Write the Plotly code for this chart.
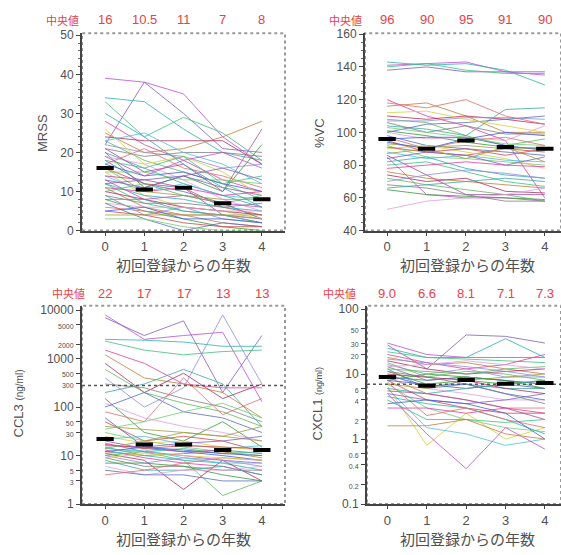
import plotly.graph_objects as go

W, H = 561, 555

years = [0, 1, 2, 3, 4]
year_labels = ["0", "1", "2", "3", "4"]
median_word = "中央値"
x_title = "初回登録からの年数"

# ---------------- MRSS (per-subject values, one array per year) ----------------
mrss_y0 = [39, 22, 34, 33, 28, 25, 24, 23, 22, 21, 20, 20, 19, 18, 17, 17, 16, 16, 15, 15, 14, 14, 13, 13,
           12, 12, 11, 11, 10, 10, 9, 9, 8, 8, 7, 7, 6, 5, 5, 4, 3, 26, 23, 21, 19, 12, 30, 18]
mrss_y1 = [38, 38, 33, 24, 22, 20, 23, 18, 20, 19, 16, 11, 17, 12, 21, 14, 12, 10, 15, 9, 10, 13, 8, 11,
           9, 7, 10, 6, 8, 12, 4, 7, 8, 5, 6, 3, 5, 6, 4, 4, 3, 17, 25, 15, 14, 13, 24, 16]
mrss_y2 = [35, 30, 26, 29, 18, 21, 23, 15, 19, 20, 12, 14, 13, 10, 16, 15, 11, 9, 13, 6, 12, 11, 9, 14,
           8, 5, 11, 4, 6, 9, 6, 7, 5, 3, 6, 0, 4, 3, 2, 4, 1, 19, 20, 17, 18, 14, 17, 19]
mrss_y3 = [24, 21, 20, 25, 13, 24, 23, 12, 16, 20, 9, 10, 8, 7, 14, 12, 6, 8, 13, 5, 9, 4, 7, 11,
           6, 4, 9, 2, 5, 7, 3, 6, 4, 1, 5, 2, 4, 3, 1, 4, 0, 15, 17, 10, 20, 16, 11, 12]
mrss_y4 = [17, 20, 18, 18, 10, 28, 17, 8, 17, 19, 6, 22, 5, 3, 11, 10, 4, 8, 12, 3, 8, 2, 6, 9,
           5, 2, 10, 1, 4, 9, 2, 7, 3, 0, 5, 1, 3, 2, 1, 4, 0, 9, 12, 26, 16, 13, 6, 14]
mrss_median = [16, 10.5, 11, 7, 8]
mrss_median_text = ["16", "10.5", "11", "7", "8"]

# ---------------- %VC ----------------
vc_y0 = [141, 138, 143, 140, 120, 116, 110, 108, 107, 106, 104, 101, 100, 98, 97, 96, 95, 93, 92, 90, 88,
         86, 85, 84, 82, 80, 78, 76, 74, 72, 70, 68, 66, 65, 53, 100, 118, 94, 91, 87, 103, 112]
vc_y1 = [142, 140, 141, 142, 110, 118, 108, 106, 107, 100, 102, 98, 96, 92, 90, 97, 88, 91, 85, 92, 84,
         74, 62, 88, 85, 82, 80, 72, 70, 68, 74, 66, 68, 62, 58, 105, 115, 90, 88, 90, 100, 113]
vc_y2 = [143, 137, 142, 138, 104, 110, 110, 98, 109, 104, 98, 94, 97, 90, 95, 97, 86, 92, 84, 88, 86,
         62, 60, 86, 78, 76, 82, 70, 72, 65, 77, 62, 70, 61, 60, 106, 120, 96, 90, 84, 97, 108]
vc_y3 = [137, 137, 138, 136, 95, 100, 108, 92, 109, 99, 114, 91, 95, 88, 97, 92, 90, 90, 82, 84, 83,
         62, 60, 80, 74, 70, 80, 68, 64, 62, 75, 58, 72, 60, 62, 108, 110, 100, 86, 91, 93, 104]
vc_y4 = [135, 137, 129, 136, 60, 100, 105, 96, 108, 99, 115, 90, 104, 86, 92, 89, 88, 91, 80, 78, 82,
         62, 58, 85, 72, 67, 79, 66, 63, 58, 72, 58, 70, 59, 66, 110, 105, 98, 90, 82, 92, 100]
vc_median = [96, 90, 95, 91, 90]
vc_median_text = ["96", "90", "95", "91", "90"]

# ---------------- CCL3 (ng/ml) ----------------
ccl3_y0 = [8000, 7000, 2500, 2300, 1500, 1200, 800, 600, 400, 300, 200, 150, 120, 100, 80, 60, 50, 40, 30,
           25, 22, 20, 18, 16, 15, 14, 13, 12, 11, 10, 10, 9, 8, 7, 6, 5, 4, 12, 17, 14, 35, 9, 11]
ccl3_y1 = [2500, 3000, 2400, 1500, 800, 400, 200, 200, 100, 250, 300, 30, 60, 200, 50, 15, 20, 35, 20,
           18, 25, 14, 12, 15, 10, 12, 9, 10, 8, 12, 7, 6, 5, 7, 4, 4, 5, 15, 14, 20, 50, 11, 13]
ccl3_y2 = [3000, 6000, 2200, 1200, 300, 300, 500, 120, 250, 150, 600, 20, 40, 80, 400, 12, 25, 30, 15,
           20, 17, 12, 10, 18, 8, 14, 7, 11, 2, 8, 9, 6, 5, 6, 5, 4, 7, 13, 16, 30, 80, 10, 9]
ccl3_y3 = [3500, 200, 1800, 1400, 250, 200, 150, 80, 8000, 100, 300, 50, 30, 60, 70, 10, 20, 25, 12,
           15, 14, 13, 8, 20, 7, 11, 6, 12, 8, 1.5, 8, 5, 6, 4, 5, 3, 9, 11, 15, 25, 120, 9, 7]
ccl3_y4 = [130, 3000, 1800, 1500, 250, 60, 300, 40, 300, 50, 40, 15, 20, 30, 150, 8, 12, 20, 10,
           13, 16, 11, 7, 25, 5, 12, 4, 9, 3, 3, 6, 5, 4, 3, 6, 3, 8, 10, 14, 40, 60, 8, 7]
ccl3_median = [22, 17, 17, 13, 13]
ccl3_median_text = ["22", "17", "17", "13", "13"]
ccl3_cutoff = 280

# ---------------- CXCL1 (ng/ml) ----------------
cxcl1_y0 = [30, 28, 25, 22, 20, 18, 16, 15, 14, 13, 12, 11, 10, 9, 9, 8, 8, 7, 7, 6.5, 6, 5.5, 5, 5,
            4.5, 4, 3, 1.6, 10, 12, 17, 11, 6, 8, 13, 9.5, 7.5, 3.5]
cxcl1_y1 = [20, 12, 18, 18, 15, 14, 12, 9, 10, 8, 6, 7, 6, 8, 5, 7, 4, 6, 3, 0.8, 1.5, 5, 1.2, 4,
            3.5, 2, 3, 1.6, 9, 11, 15, 9, 5, 10, 14, 6.6, 2.3, 4]
cxcl1_y2 = [18, 40, 18, 17, 12, 15, 10, 11, 12, 9, 7, 8, 5, 9, 4, 6, 3, 8, 2, 2.5, 1.2, 4, 0.35, 3.5,
            3, 2, 2.5, 2, 8, 10, 13, 7, 6, 9, 16, 7, 3, 3.5]
cxcl1_y3 = [18, 38, 35, 16, 14, 12, 11, 10, 9, 8, 6, 7, 4, 8, 3, 7, 2.5, 9, 1.5, 1, 0.8, 3, 1.5, 4,
            2, 1.8, 3, 1.2, 6, 12, 11, 5, 7, 8, 14, 5, 2, 2.5]
cxcl1_y4 = [18, 30, 18, 15, 20, 10, 12, 8, 9, 7, 6, 8, 4, 7, 3, 6, 2.5, 10, 1.3, 1.5, 1, 2, 0.7, 5,
            1.2, 2, 2.5, 1, 5, 13, 9, 3.5, 8, 6, 12, 4, 1.5, 1]
cxcl1_median = [9.0, 6.6, 8.1, 7.1, 7.3]
cxcl1_median_text = ["9.0", "6.6", "8.1", "7.1", "7.3"]
cxcl1_cutoff = 7

# ---------------- style ----------------
palette = ["#c050d0", "#d8d040", "#d04848", "#5870c0", "#40a8a0", "#60b860", "#e040a0", "#8060c0",
           "#50c0e0", "#a0a040", "#e07070", "#3a9a3a", "#9090e0", "#c08040", "#30b0b0", "#a050a0",
           "#70d070", "#4060e0", "#e0a0e0", "#808080", "#b03060", "#40c080"]
RED = "#e8404a"
TXT = "#505050"
NUMFONT = "Liberation Sans, Arial, sans-serif"
JPFONT = "Noto Sans CJK JP, sans-serif"


def px(xp):
    return xp / W


def py(yp):
    return 1 - yp / H


panels = [
    dict(key="", ys=[mrss_y0, mrss_y1, mrss_y2, mrss_y3, mrss_y4], med=mrss_median, medtxt=mrss_median_text,
         xd=(82, 285), yd=(28, 230), xr=[-0.59, 4.59], log=False, yr=[0, 50.5],
         tv=[0, 10, 20, 30, 40, 50], tt=None, title="MRSS", tx=43, ty=130, word_x=62, lab_y=14,
         xt_x=183, xt_y=265, cutoff=None, minor=2),
    dict(key="2", ys=[vc_y0, vc_y1, vc_y2, vc_y3, vc_y4], med=vc_median, medtxt=vc_median_text,
         xd=(365, 561), yd=(28, 230), xr=[-0.56, 4.41], log=False, yr=[40, 160.5],
         tv=[40, 60, 80, 100, 120, 140, 160], tt=None, title="%VC", tx=320, ty=130, word_x=345, lab_y=14,
         xt_x=467, xt_y=265, cutoff=None, minor=5),
    dict(key="3", ys=[ccl3_y0, ccl3_y1, ccl3_y2, ccl3_y3, ccl3_y4], med=ccl3_median, medtxt=ccl3_median_text,
         xd=(82, 285), yd=(307, 510), xr=[-0.59, 4.59], log=True, yr=[0, 4.09],
         tv=[1, 3, 5, 10, 30, 50, 100, 300, 500, 1000, 2000, 5000, 10000],
         tt=["1", "3", "5", "10", "30", "50", "100", "300", "500", "1000", "2000", "5000", "10000"],
         title="CCL3 <span style='font-size:10px'>(ng/ml)</span>", tx=18, ty=407, word_x=68, lab_y=294,
         xt_x=183, xt_y=545, cutoff=ccl3_cutoff, minor=None),
    dict(key="4", ys=[cxcl1_y0, cxcl1_y1, cxcl1_y2, cxcl1_y3, cxcl1_y4], med=cxcl1_median, medtxt=cxcl1_median_text,
         xd=(367, 561), yd=(307, 510), xr=[-0.52, 4.41], log=True, yr=[-1, 2.05],
         tv=[0.1, 0.2, 0.4, 0.6, 1, 2, 4, 6, 10, 20, 30, 50, 100],
         tt=["0.1", "0.2", "0.4", "0.6", "1", "2", "4", "6", "10", "20", "30", "50", "100"],
         title="CXCL1 <span style='font-size:9px'>(ng/ml)</span>", tx=317, ty=407, word_x=339, lab_y=294,
         xt_x=467, xt_y=545, cutoff=cxcl1_cutoff, minor=None),
]

fig = go.Figure()
layout = dict(width=W, height=H, margin=dict(l=0, r=0, t=0, b=0), paper_bgcolor="white",
              plot_bgcolor="white", showlegend=False)
annotations = []
shapes = []
majors = {1, 10, 100, 1000, 10000, 0.1}

for p in panels:
    k = p["key"]
    xa, ya = "x" + k, "y" + k
    cols = list(zip(*p["ys"]))
    for i, subj in enumerate(cols):
        fig.add_trace(go.Scatter(x=years, y=list(subj), mode="lines", xaxis=xa, yaxis=ya,
                                 line=dict(color=palette[(i * 7) % len(palette)], width=1),
                                 opacity=0.8, hoverinfo="skip", connectgaps=True))
    if p["cutoff"] is not None:
        fig.add_trace(go.Scatter(x=[p["xr"][0], p["xr"][1]], y=[p["cutoff"], p["cutoff"]], mode="lines",
                                 xaxis=xa, yaxis=ya, line=dict(color="#555555", width=1.5, dash="dot"),
                                 hoverinfo="skip"))
    mx, my = [], []
    for yr_, m in zip(years, p["med"]):
        mx += [yr_ - 0.22, yr_ + 0.22, None]
        my += [m, m, None]
    fig.add_trace(go.Scatter(x=mx, y=my, mode="lines", xaxis=xa, yaxis=ya,
                             line=dict(color="black", width=4), hoverinfo="skip"))

    xname = "xaxis" + k
    yname = "yaxis" + k
    layout[xname] = dict(domain=[px(p["xd"][0]), px(p["xd"][1])], range=p["xr"], anchor=ya,
                         tickvals=years, ticktext=year_labels, ticks="outside", ticklen=3,
                         tickcolor="#444", showline=True, linecolor="#444", linewidth=2,
                         showgrid=False, zeroline=False,
                         tickfont=dict(family=NUMFONT, size=13, color=TXT))
    yax = dict(domain=[py(p["yd"][1]), py(p["yd"][0])], range=p["yr"], anchor=xa,
               ticks="outside", ticklen=4, tickcolor="#444", showline=True, linecolor="#444",
               linewidth=2, showgrid=False, zeroline=False,
               tickfont=dict(family=NUMFONT, size=12, color=TXT))
    if p["log"]:
        yax["type"] = "log"
        yax["tickvals"] = p["tv"]
        yax["ticktext"] = [t if v in majors else "<span style='font-size:7px'>" + t + "</span>"
                           for v, t in zip(p["tv"], p["tt"])]
    else:
        yax["tickvals"] = p["tv"]
        yax["minor"] = dict(dtick=p["minor"], ticks="outside", ticklen=2, tickcolor="#666", showgrid=False)
    layout[yname] = yax

    shapes.append(dict(type="rect", xref=xa + " domain", yref=ya + " domain", x0=0, x1=1, y0=0, y1=1,
                       line=dict(color="#999999", width=2, dash="dot"), layer="below"))

    annotations.append(dict(x=px(p["word_x"]), y=py(p["lab_y"]), xref="paper", yref="paper",
                            text=median_word, showarrow=False, xanchor="center", yanchor="middle",
                            font=dict(family=JPFONT, size=11, color=RED)))
    for yr_, t in zip(years, p["medtxt"]):
        annotations.append(dict(x=yr_, y=py(p["lab_y"]), xref=xa, yref="paper", text=t, showarrow=False,
                                xanchor="center", yanchor="middle",
                                font=dict(family=NUMFONT, size=13, color=RED)))
    annotations.append(dict(x=px(p["tx"]), y=py(p["ty"]), xref="paper", yref="paper", text=p["title"],
                            textangle=-90, showarrow=False, xanchor="center", yanchor="middle",
                            font=dict(family=NUMFONT, size=13, color=TXT)))
    annotations.append(dict(x=px(p["xt_x"]), y=py(p["xt_y"]), xref="paper", yref="paper", text=x_title,
                            showarrow=False, xanchor="center", yanchor="middle",
                            font=dict(family=JPFONT, size=15, color=TXT)))

layout["annotations"] = annotations
layout["shapes"] = shapes
fig.update_layout(**layout)
fig.write_html("out.html")
